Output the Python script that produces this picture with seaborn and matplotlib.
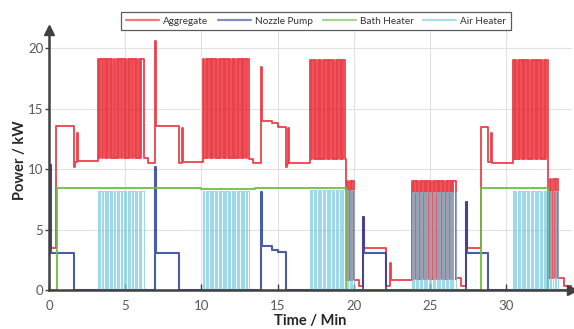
import numpy as np
import pandas as pd
import matplotlib
matplotlib.use("Agg")
import matplotlib.pyplot as plt
from matplotlib.lines import Line2D
import seaborn as sns

# ---------------- data ----------------
series_names = ["Aggregate", "Nozzle Pump", "Bath Heater", "Air Heater"]

# Aggregate power without the air-heater pulses (step changes, min / kW)
agg_base_t = [0.00, 0.12, 0.45, 1.62, 1.70, 1.86, 1.92, 3.20, 6.22, 6.50, 6.98, 7.04,
              8.55, 8.72, 8.78, 10.10, 13.10, 13.35, 13.92, 13.97, 14.60, 15.00,
              15.52, 15.60, 15.70, 15.75, 17.10, 19.45, 20.05, 20.35, 20.60, 20.66,
              22.10, 22.38, 22.45, 23.80, 26.70, 27.05, 27.33, 27.40, 28.30, 28.82,
              28.98, 29.04, 30.40, 32.75, 33.45, 33.80, 34.30]
agg_base_v = [10.3, 3.5, 13.6, 10.2, 10.6, 13.0, 10.7, 10.9, 10.9, 10.5, 20.6, 13.6,
              10.5, 13.4, 10.6, 10.9, 10.8, 10.5, 18.4, 14.0, 13.8, 13.5,
              10.2, 10.4, 13.4, 10.5, 10.8, 0.8, 0.8, 0.3, 6.0, 3.5,
              0.3, 2.2, 0.8, 0.9, 1.0, 0.3, 7.3, 3.5, 13.5, 10.6,
              13.0, 10.5, 10.8, 1.0, 1.0, 0.3, 0.3]

# Nozzle pump
pump_t = [0.00, 0.10, 1.62, 6.98, 7.04, 8.55, 13.92, 13.97, 14.60, 15.00, 15.52,
          20.60, 20.66, 22.10, 27.33, 27.40, 28.82, 34.30]
pump_v = [10.3, 3.1, 0.0, 10.2, 3.1, 0.0, 8.1, 3.6, 3.3, 3.15, 0.0,
          6.0, 3.1, 0.0, 7.3, 3.1, 0.0, 0.0]

# Bath heater
bath_t = [0.00, 0.50, 10.00, 13.50, 19.45, 28.30, 32.75, 34.30]
bath_v = [0.0, 8.45, 8.35, 8.45, 0.0, 8.45, 0.0, 0.0]

# Air heater on/off pulses (start, end) and level per pulse
air_starts = [3.20, 3.37, 3.55, 3.72, 3.90, 4.07, 4.26, 4.44, 4.61, 4.80, 4.98, 5.16,
              5.34, 5.52, 5.70, 5.88, 6.06,
              10.10, 10.27, 10.44, 10.61, 10.78, 10.95, 11.12, 11.29, 11.46, 11.63,
              11.80, 11.97, 12.14, 12.31, 12.48, 12.65, 12.82, 12.99,
              17.10, 17.27, 17.44, 17.61, 17.78, 17.95, 18.12, 18.29, 18.46, 18.63,
              18.80, 18.97, 19.14, 19.31, 19.55, 19.72, 19.90,
              23.80, 23.97, 24.14, 24.31, 24.48, 24.65, 24.82, 24.99, 25.16, 25.33,
              25.50, 25.67, 25.84, 26.01, 26.18, 26.35, 26.52,
              30.40, 30.57, 30.74, 30.91, 31.08, 31.25, 31.42, 31.59, 31.76, 31.93,
              32.10, 32.27, 32.44, 32.61, 32.85, 33.08, 33.28]
air_ends = [3.29, 3.46, 3.64, 3.81, 3.99, 4.16, 4.35, 4.53, 4.70, 4.89, 5.07, 5.25,
            5.43, 5.61, 5.79, 5.97, 6.20,
            10.19, 10.36, 10.53, 10.70, 10.87, 11.04, 11.21, 11.38, 11.55, 11.72,
            11.89, 12.06, 12.23, 12.40, 12.57, 12.74, 12.91, 13.10,
            17.19, 17.36, 17.53, 17.70, 17.87, 18.04, 18.21, 18.38, 18.55, 18.72,
            18.89, 19.06, 19.23, 19.44, 19.63, 19.80, 20.00,
            23.89, 24.06, 24.23, 24.40, 24.57, 24.74, 24.91, 25.08, 25.25, 25.42,
            25.59, 25.76, 25.93, 26.10, 26.27, 26.44, 26.68,
            30.49, 30.66, 30.83, 31.00, 31.17, 31.34, 31.51, 31.68, 31.85, 32.02,
            32.19, 32.36, 32.53, 32.74, 32.95, 33.17, 33.40]
air_level = ([8.2] * 17 + [8.2] * 18 + [8.25] * 17 + [8.1] * 17 + [8.2] * 17)

x_ticks = [0, 5, 10, 15, 20, 25, 30]
y_ticks = [0, 5, 10, 15, 20]
colors = {"Aggregate": "#e8202a", "Nozzle Pump": "#2d3f96",
          "Bath Heater": "#6cbc42", "Air Heater": "#76c8dd"}

# ---------------- build step series ----------------
air_t = [0.0]
air_v = [0.0]
for s, e, lv in zip(air_starts, air_ends, air_level):
    air_t += [s, e]
    air_v += [lv, 0.0]
air_t.append(34.30)
air_v.append(0.0)


def step_at(ts, vs, query):
    idx = np.searchsorted(np.asarray(ts), query, side="right") - 1
    return np.asarray(vs)[np.clip(idx, 0, len(vs) - 1)]


grid_t = np.unique(np.concatenate([agg_base_t, air_t]))
agg_v = step_at(agg_base_t, agg_base_v, grid_t) + step_at(air_t, air_v, grid_t)

frames = {
    "Aggregate": pd.DataFrame({"t": grid_t, "p": agg_v}),
    "Nozzle Pump": pd.DataFrame({"t": pump_t, "p": pump_v}),
    "Bath Heater": pd.DataFrame({"t": bath_t, "p": bath_v}),
    "Air Heater": pd.DataFrame({"t": air_t, "p": air_v}),
}

# ---------------- plot ----------------
sns.set_theme(style="white")
plt.rcParams["font.family"] = ["Lato", "DejaVu Sans"]

fig = plt.figure(figsize=(5.74, 3.29), dpi=100)
ax = fig.add_axes([49 / 574, 39 / 329, (572 - 49) / 574, 260 / 329])

alphas = {"Aggregate": 0.85, "Nozzle Pump": 0.85, "Bath Heater": 0.9, "Air Heater": 0.7}
lws = {"Aggregate": 1.3, "Nozzle Pump": 1.5, "Bath Heater": 1.4, "Air Heater": 0.8}
for name in series_names:
    df = frames[name]
    sns.lineplot(data=df, x="t", y="p", ax=ax, color=colors[name], estimator=None,
                 sort=False, drawstyle="steps-post", lw=lws[name], alpha=alphas[name],
                 legend=False)

ax.set_xlim(0, 34.3)
ax.set_ylim(0, 21.5)
ax.set_xticks(x_ticks)
ax.set_yticks(y_ticks)
ax.grid(True, color="#e2e2e2", lw=0.8)
ax.set_axisbelow(True)
for side in ["top", "right"]:
    ax.spines[side].set_visible(False)
for side in ["left", "bottom"]:
    ax.spines[side].set_color("#404040")
    ax.spines[side].set_linewidth(1.8)
ax.tick_params(axis="x", direction="in", length=4, width=1, color="#404040",
               labelsize=9.5, labelcolor="#595959", pad=7, bottom=True)
ax.tick_params(axis="y", direction="out", length=3, width=1, color="#404040",
               labelsize=9.5, labelcolor="#595959", pad=1, left=True)
ax.plot([0], [1], marker="^", ms=7, color="#404040", transform=ax.transAxes, clip_on=False)
ax.plot([1], [0], marker=">", ms=7, color="#404040", transform=ax.transAxes, clip_on=False)

ax.set_xlabel("Time / Min", fontsize=10.5, fontweight="bold", color="#262626", labelpad=2)
ax.set_ylabel("Power / kW", fontsize=10.5, fontweight="bold", color="#262626", labelpad=1)

handles = [Line2D([0], [0], color=colors[n], lw=1.6, alpha=0.6) for n in series_names]
leg = fig.legend(handles, series_names, loc="center", bbox_to_anchor=(316 / 574, 1 - 21 / 329),
                 ncol=4, frameon=True, fancybox=False, fontsize=7.2, handlelength=3.3,
                 columnspacing=1.0, handletextpad=0.4, borderpad=0.45, labelcolor="#333333")
leg.get_frame().set_edgecolor("#333333")
leg.get_frame().set_linewidth(0.9)

fig.savefig("out.png", dpi=100)
